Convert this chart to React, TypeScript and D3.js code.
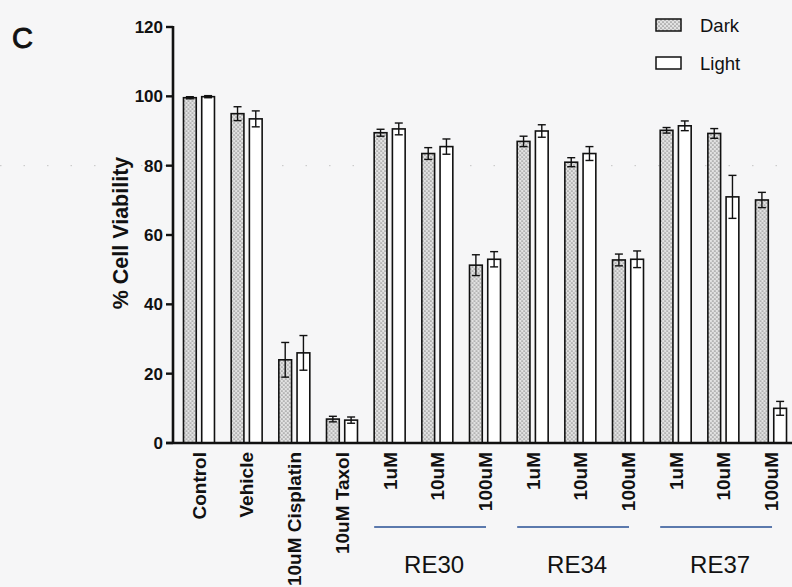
import React from "react";
import * as d3 from "d3";

const categories = ["Control", "Vehicle", "Cisplatin", "Taxol", "RE30-1", "RE30-10", "RE30-100", "RE34-1", "RE34-10", "RE34-100", "RE37-1", "RE37-10", "RE37-100"];
const tickLabels = ["Control", "Vehicle", "10uM Cisplatin", "10uM Taxol", "1uM", "10uM", "100uM", "1uM", "10uM", "100uM", "1uM", "10uM", "100uM"];
const series = ["Dark", "Light"];
const darkValues = [99.6, 95, 24, 6.9, 89.5, 83.5, 51.3, 87, 81, 52.8, 90.2, 89.3, 70.1];
const darkErr = [0.3, 2, 5, 0.8, 1, 1.7, 3, 1.5, 1.3, 1.7, 0.8, 1.4, 2.2];
const lightValues = [99.9, 93.5, 26, 6.6, 90.6, 85.5, 53, 90, 83.5, 53, 91.5, 71, 10];
const lightErr = [0.3, 2.3, 5, 0.9, 1.7, 2.2, 2.2, 1.8, 2, 2.4, 1.4, 6.2, 2];
const compounds = ["RE30", "RE34", "RE37"];
const compoundFirst = ["RE30-1", "RE34-1", "RE37-1"];
const compoundLast = ["RE30-100", "RE34-100", "RE37-100"];
const yTicks = [0, 20, 40, 60, 80, 100, 120];

const W = 792;
const H = 587;
const FONT = "Liberation Sans, Arial, Helvetica, sans-serif";

export default function App() {
  const axisX = 173;
  const y = d3.scaleLinear().domain([0, 120]).range([443, 27]);
  const x = d3
    .scaleBand<string>()
    .domain(categories)
    .range([axisX, 797])
    .paddingInner(0.35)
    .paddingOuter(0.22);
  const sub = d3.scaleBand<string>().domain(series).range([0, x.bandwidth()]).paddingInner(0.3);
  const values: Record<string, number[]> = { Dark: darkValues, Light: lightValues };
  const errs: Record<string, number[]> = { Dark: darkErr, Light: lightErr };
  const capHalf = 4;

  return (
    <svg
      width={W}
      height={H}
      style={{ position: "absolute", left: 0, top: 0, background: "#f6f6f7" }}
      fontFamily={FONT}
    >
      <defs>
        <pattern id="dots" width="4" height="4" patternUnits="userSpaceOnUse">
          <rect width="4" height="4" fill="#e2e2e2" />
          <circle cx="1" cy="1" r="0.85" fill="#909090" />
          <circle cx="3" cy="3" r="0.85" fill="#909090" />
        </pattern>
      </defs>
      <rect width={W} height={H} fill="#f6f6f7" />
      {/* faint scan dotted line */}
      <line x1={0} x2={W} y1={y(80)} y2={y(80)} stroke="#c4c4c4" strokeWidth={1} strokeDasharray="1.5 22" />

      <text x={12} y={48} fontSize={29} fill="#111" stroke="#111" strokeWidth={0.9}>C</text>

      {/* bars */}
      {categories.map((c, i) => (
        <g key={c} transform={`translate(${x(c)},0)`}>
          {series.map((s) => {
            const v = values[s][i];
            const e = errs[s][i];
            const bx = sub(s)!;
            const bw = sub.bandwidth();
            const cx = bx + bw / 2;
            return (
              <g key={s}>
                <rect
                  x={bx}
                  y={y(v)}
                  width={bw}
                  height={y(0) - y(v)}
                  fill={s === "Dark" ? "url(#dots)" : "#ffffff"}
                  stroke="#111"
                  strokeWidth={1.6}
                />
                <line x1={cx} x2={cx} y1={y(v + e)} y2={y(v - e)} stroke="#111" strokeWidth={1.4} />
                <line x1={cx - capHalf} x2={cx + capHalf} y1={y(v + e)} y2={y(v + e)} stroke="#111" strokeWidth={1.4} />
                <line x1={cx - capHalf} x2={cx + capHalf} y1={y(v - e)} y2={y(v - e)} stroke="#111" strokeWidth={1.4} />
              </g>
            );
          })}
        </g>
      ))}

      {/* y axis */}
      <line x1={axisX} x2={axisX} y1={y(120) - 1} y2={y(0)} stroke="#111" strokeWidth={2.6} />
      {yTicks.map((t) => (
        <g key={t}>
          <line x1={axisX - 7} x2={axisX} y1={y(t)} y2={y(t)} stroke="#111" strokeWidth={2.4} />
          <text
            x={axisX - 10}
            y={y(t)}
            dy="0.36em"
            textAnchor="end"
            fontSize={17}
            fontWeight="bold"
            fill="#111"
          >
            {t}
          </text>
        </g>
      ))}
      <text
        transform={`translate(120,233) rotate(-90)`}
        textAnchor="middle"
        fontSize={21.5}
        fontWeight="bold"
        fill="#111"
        dy="0.36em"
      >
        % Cell Viability
      </text>

      {/* x axis */}
      <line x1={axisX - 7} x2={W + 10} y1={y(0)} y2={y(0)} stroke="#111" strokeWidth={2.6} />
      {categories.map((c, i) => (
        <text
          key={c}
          transform={`translate(${x(c)! + x.bandwidth() / 2},${y(0) + 9}) rotate(-90)`}
          textAnchor="end"
          dy="0.36em"
          fontSize={19}
          fontWeight="bold"
          fill="#111"
        >
          {tickLabels[i]}
        </text>
      ))}

      {/* compound group lines */}
      {compounds.map((g, k) => {
        const x1 = x(compoundFirst[k])!;
        const x2 = x(compoundLast[k])! + x.bandwidth() / 2 + 1;
        return (
          <g key={g}>
            <line x1={x1} x2={x2} y1={527} y2={527} stroke="#5b79ad" strokeWidth={2} />
            <text x={(x1 + x2) / 2 + 4} y={573} textAnchor="middle" fontSize={24} fill="#111">
              {g}
            </text>
          </g>
        );
      })}

      {/* legend */}
      {series.map((s, k) => (
        <g key={s} transform={`translate(656,${19 + k * 38})`}>
          <rect width={25} height={12} fill={s === "Dark" ? "url(#dots)" : "#ffffff"} stroke="#111" strokeWidth={1.5} />
          <text x={44} y={6} dy="0.36em" fontSize={18.5} fill="#111">
            {s}
          </text>
        </g>
      ))}
    </svg>
  );
}
